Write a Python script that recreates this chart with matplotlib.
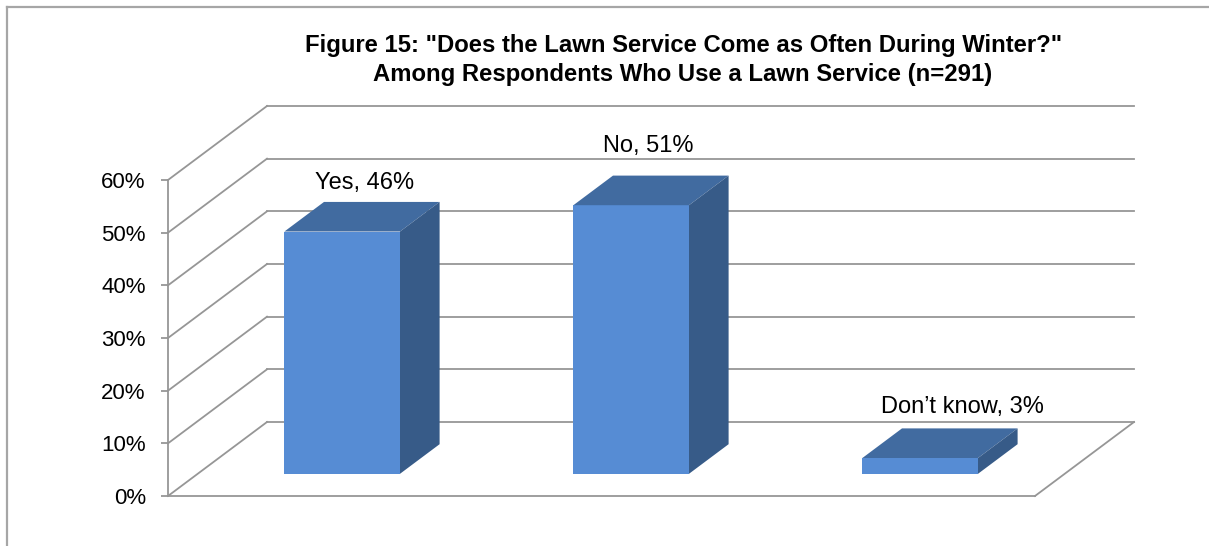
import matplotlib
matplotlib.use("Agg")
import matplotlib.pyplot as plt
from matplotlib.patches import Polygon
from matplotlib.lines import Line2D

plt.rcParams['font.family'] = ['Liberation Sans', 'DejaVu Sans']

# Survey data
categories = ["Yes", "No", "Don\u2019t know"]
values = [46, 51, 3]
tick_values = [0, 10, 20, 30, 40, 50, 60]
tick_labels = ["0%", "10%", "20%", "30%", "40%", "50%", "60%"]
title = ('Figure 15: "Does the Lawn Service Come as Often During Winter?"\n'
         'Among Respondents Who Use a Lawn Service (n=291)')

# Label nudges (points) relative to the centre of each bar's top face
label_offsets = [(2, 24), (-2, 32), (16, 26)]

W, H, DPI = 1209, 546, 100
fig = plt.figure(figsize=(W / DPI, H / DPI), dpi=DPI)
fig.patch.set_facecolor("white")

# Chart-area frame
frame_kw = dict(color="#A6A6A6", lw=1.6, transform=fig.transFigure)
fig.add_artist(Line2D([7 / W, 1.01], [1 - 7 / H] * 2, **frame_kw))
fig.add_artist(Line2D([7 / W] * 2, [1 - 7 / H, -0.01], **frame_kw))

fig.text(0.565, 1 - 60 / H, title, ha="center", va="center",
         fontsize=17.2, fontweight="bold", linespacing=1.28)

# Front plane of the 3-D box
ax = fig.add_axes([168 / W, 50 / H, 867 / W, 316 / H])
ax.set_xlim(-0.5, len(categories) - 0.5)
ax.set_ylim(tick_values[0], tick_values[-1])
ax.patch.set_alpha(0)
for s in ("top", "right", "bottom"):
    ax.spines[s].set_visible(False)
ax.spines["left"].set_color("#969696")
ax.spines["left"].set_linewidth(1.3)
ax.set_xticks([])
ax.set_yticks(tick_values)
ax.set_yticklabels(tick_labels)
ax.tick_params(axis="y", direction="out", length=5, width=1.3,
               color="#969696", pad=11, labelsize=16, labelcolor="black")

# Oblique depth offset (data units for one full depth of the box)
DX = 99 / 289
DY = 74 * (tick_values[-1] - tick_values[0]) / 316
x0, x1 = -0.5, len(categories) - 0.5
grid_kw = dict(color="#969696", lw=1.3, clip_on=False, zorder=1)

for t in tick_values:
    # back wall gridline
    ax.plot([x0 + DX, x1 + DX], [t + DY, t + DY], **grid_kw)
    # side wall diagonal
    ax.plot([x0, x0 + DX], [t, t + DY], **grid_kw)
# floor edges
ax.plot([x0, x1], [0, 0], **grid_kw)
ax.plot([x1, x1 + DX], [0, DY], **grid_kw)

# Bars: front face, top face, right side face
front_c, top_c, side_c = "#568CD4", "#416BA0", "#375B88"
d0, d1 = 0.3, 0.7
w = 0.4
xs = list(range(len(categories)))
ax.bar([x + d0 * DX for x in xs], values, width=w, bottom=d0 * DY,
       color=front_c, clip_on=False, zorder=3)
for x, v in zip(xs, values):
    xl, xr = x - w / 2, x + w / 2
    top = [(xl + d0 * DX, v + d0 * DY), (xr + d0 * DX, v + d0 * DY),
           (xr + d1 * DX, v + d1 * DY), (xl + d1 * DX, v + d1 * DY)]
    side = [(xr + d0 * DX, d0 * DY), (xr + d1 * DX, d1 * DY),
            (xr + d1 * DX, v + d1 * DY), (xr + d0 * DX, v + d0 * DY)]
    ax.add_patch(Polygon(top, closed=True, facecolor=top_c, edgecolor="none",
                         clip_on=False, zorder=3))
    ax.add_patch(Polygon(side, closed=True, facecolor=side_c, edgecolor="none",
                         clip_on=False, zorder=3))

# Data labels
for x, v, name, off in zip(xs, values, categories, label_offsets):
    ax.annotate(f"{name}, {v}%", xy=(x + 0.5 * DX, v + 0.5 * DY),
                xytext=off, textcoords="offset points",
                ha="center", va="center", fontsize=17, color="black",
                annotation_clip=False, zorder=4)

fig.savefig("out.png", dpi=DPI)
